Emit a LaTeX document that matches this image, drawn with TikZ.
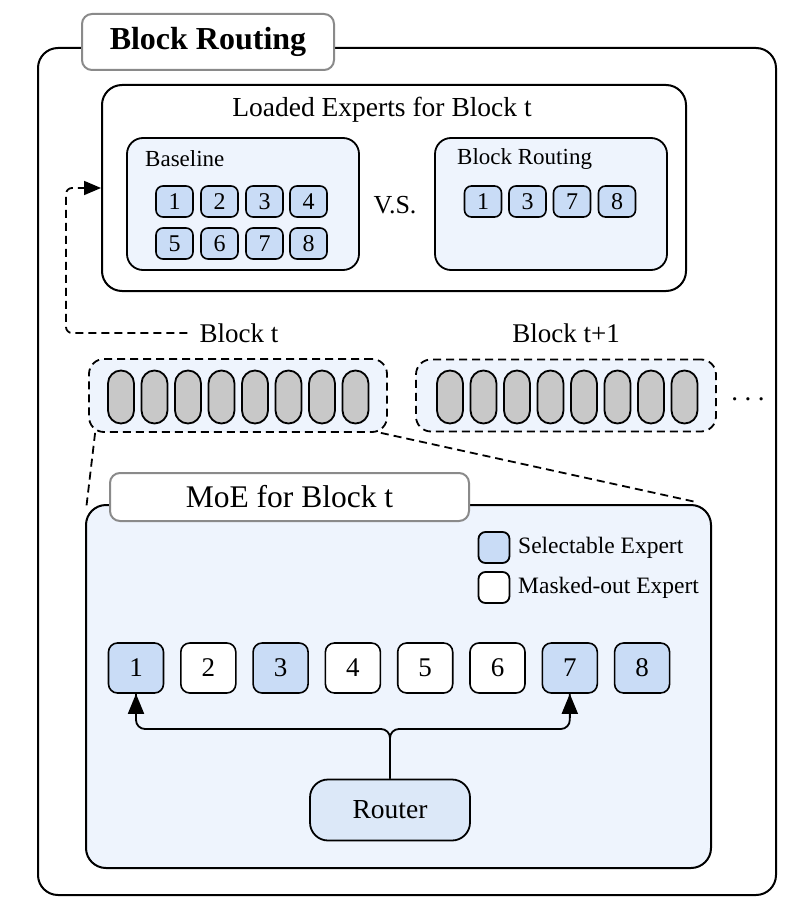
\documentclass[tikz,border=0pt]{standalone}
\usepackage{fontspec}
\setmainfont{Liberation Serif}
\usetikzlibrary{arrows.meta,calc}
\definecolor{lightbg}{HTML}{EEF4FD}
\definecolor{expblue}{HTML}{C9DCF6}
\definecolor{routerfill}{HTML}{DCE8F8}
\definecolor{capgray}{HTML}{C8C8C8}
\definecolor{titlegray}{HTML}{8A8A8A}
\tikzset{
  bigbox/.style={draw, line width=2pt, rounded corners=20pt, inner sep=0pt},
  titlebox/.style={draw=titlegray, line width=2pt, fill=white, rounded corners=10pt, inner sep=0pt},
  subbox/.style={draw, line width=1.8pt, fill=lightbg, rounded corners=16pt, inner sep=0pt},
  smallexp/.style={draw, line width=1.6pt, fill=expblue, rounded corners=7pt, minimum width=37pt, minimum height=31pt, inner sep=0pt, font=\fontsize{24}{26}\selectfont},
  bigexp/.style={draw, line width=1.6pt, rounded corners=9pt, minimum width=55pt, minimum height=50pt, inner sep=0pt, font=\fontsize{27}{29}\selectfont},
  container/.style={draw, line width=1.8pt, dash pattern=on 8pt off 5pt, fill=lightbg, rounded corners=15pt, inner sep=0pt},
  capsule/.style={draw, line width=1.8pt, fill=capgray, rounded corners=13pt, minimum width=26pt, minimum height=53pt, inner sep=0pt},
  legbox/.style={draw, line width=1.8pt, rounded corners=7pt, minimum width=31pt, minimum height=31pt, inner sep=0pt},
  dashline/.style={line width=1.8pt, dash pattern=on 8pt off 5pt},
  conn/.style={line width=1.8pt},
  tip/.style={line width=1.8pt, -{Triangle[length=20pt,width=16pt]}},
  lbl/.style={inner sep=0pt, font=\fontsize{27}{29}\selectfont},
  smalllbl/.style={inner sep=0pt, font=\fontsize{23}{25}\selectfont}
}
\begin{document}
\begin{tikzpicture}[x=1pt,y=-1pt]
\useasboundingbox (0,0) rectangle (795,917);
% outer box
\node[bigbox, minimum width=738pt, minimum height=847pt] (outer) at (407,471.5) {};
\node[titlebox, minimum width=252pt, minimum height=56pt, font=\fontsize{32}{34}\selectfont\bfseries] (title) at (208,42) {Block Routing};

% loaded experts
\node[bigbox, fill=white, minimum width=584pt, minimum height=206pt] (loaded) at (394,188) {};
\node[lbl, font=\fontsize{27.5}{30}\selectfont] (loadedt) at (382,110) {Loaded Experts for Block t};

\node[subbox, minimum width=232pt, minimum height=132pt] (base) at (243,204) {};
\node[smalllbl, anchor=west] (baset) at (145,159) {Baseline};
\foreach \n/\x/\y in {1/174.5/201.5, 2/219.5/201.5, 3/264.5/201.5, 4/308.5/201.5, 5/174.5/243.5, 6/219.5/243.5, 7/264.5/243.5, 8/308.5/243.5}
  \node[smallexp] (b\n) at (\x,\y) {\n};

\node[lbl, font=\fontsize{26}{28}\selectfont] (vs) at (395,205) {V.S.};

\node[subbox, minimum width=232pt, minimum height=132pt] (br) at (551,204) {};
\node[smalllbl, anchor=west] (brt) at (457,159) {Block Routing};
\foreach \n/\x in {1/483, 3/527.5, 7/572, 8/617}
  \node[smallexp] (r\n) at (\x,201.5) {\n};

% blocks
\node[lbl] (blockt) at (239,333) {Block t};
\node[lbl] (blockt1) at (566,333) {Block t+1};
\coordinate (corner) at (66,333);
\draw[dashline, rounded corners=6pt] (blockt.west) ++(-12,0) -- (corner) |- (loaded.west);
\draw[line width=1.8pt, -{Triangle[length=17pt,width=14pt]}] ($(loaded.west)+(-20,0)$) -- (loaded.west);

\node[container, minimum width=298pt, minimum height=73pt] (ct) at (238,395.5) {};
\foreach \i in {0,...,7}
  \node[capsule] (c\i) at ({121+33.5*\i},397) {};
\node[container, minimum width=300pt, minimum height=72pt] (ct1) at (566,395.5) {};
\foreach \i in {0,...,7}
  \node[capsule] (d\i) at ({450+33.5*\i},397) {};
\node[lbl, anchor=base] (dots) at (748,400) {.\hspace{6.5pt}.\hspace{6.5pt}.};

% MoE box
\node[bigbox, fill=lightbg, minimum width=625pt, minimum height=363pt] (moe) at (398.5,686.5) {};
\draw[dashline] ($(ct.south west)+(7,0)$) -- ($(moe.north west)+(1,6)$);
\draw[dashline] ($(ct.south east)+(-7,0)$) -- ($(moe.north east)+(-16,-2)$);
\node[titlebox, minimum width=359pt, minimum height=48pt, font=\fontsize{31.5}{33}\selectfont] (moet) at (289.5,497) {MoE for Block t};

% legend
\node[legbox, fill=expblue] (leg1) at (494,547.5) {};
\node[smalllbl, anchor=west, font=\fontsize{23.5}{25}\selectfont] (leg1t) at (518,548) {Selectable Expert};
\node[legbox, fill=white] (leg2) at (494,587.5) {};
\node[smalllbl, anchor=west, font=\fontsize{23.5}{25}\selectfont] (leg2t) at (518,588) {Masked-out Expert};

% experts
\foreach \n/\c in {1/expblue, 2/white, 3/expblue, 4/white, 5/white, 6/white, 7/expblue, 8/expblue}
  \node[bigexp, fill=\c] (e\n) at ({136+72.3*(\n-1)},668) {\n};

\node[draw, line width=1.8pt, fill=routerfill, rounded corners=18pt, minimum width=160pt, minimum height=61pt, inner sep=0pt, font=\fontsize{27.5}{29}\selectfont] (router) at (390,810) {Router};
\coordinate (j) at (390,729);
\draw[conn, rounded corners=9pt] (router.north) -- (j) -| (e1.south);
\draw[conn, rounded corners=9pt] (router.north) -- (j) -| (e7.south);
\draw[tip] ($(e1.south)+(0,24)$) -- (e1.south);
\draw[tip] ($(e7.south)+(0,24)$) -- (e7.south);
\end{tikzpicture}
\end{document}
